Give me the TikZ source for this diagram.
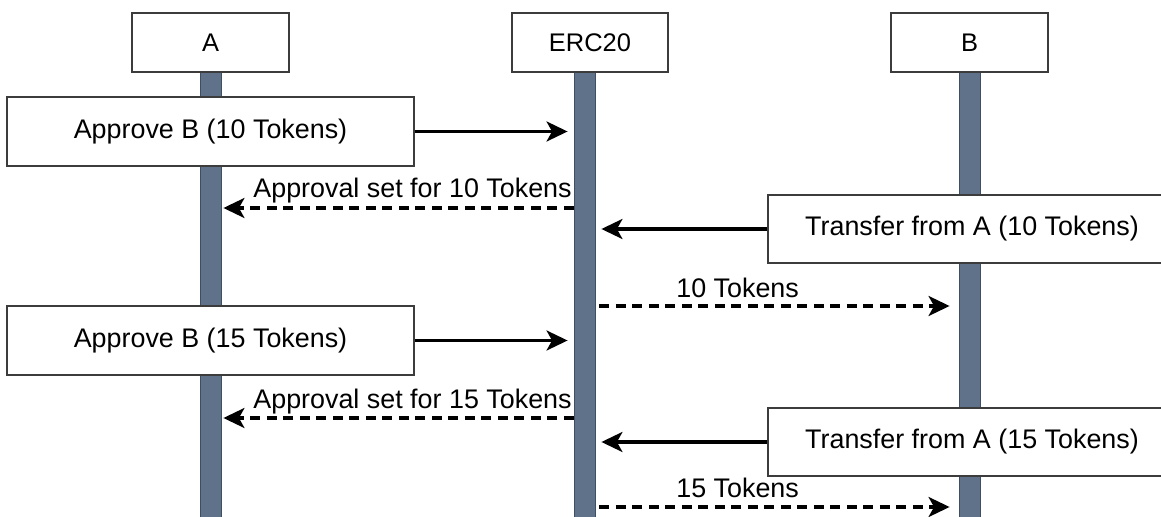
\documentclass[tikz,border=0pt]{standalone}
\usepackage{fontspec}
\setmainfont{Liberation Sans}
\usetikzlibrary{arrows.meta,calc}
\definecolor{lifeslate}{RGB}{95,114,137}
\definecolor{lifeedge}{RGB}{64,78,98}
\definecolor{boxedge}{RGB}{60,60,60}
\tikzset{
  hdbox/.style={draw=boxedge,line width=1.3pt,fill=white,minimum width=3.14cm,minimum height=1.18cm,inner sep=0pt,font=\fontsize{14.5}{17}\selectfont},
  callbox/.style={draw=boxedge,line width=1.3pt,fill=white,minimum width=8.14cm,minimum height=1.38cm,inner sep=0pt,font=\fontsize{15.3}{18}\selectfont},
  lifebar/.style={draw=lifeedge,line width=0.5pt,fill=lifeslate,minimum width=0.42cm,minimum height=9.1cm,inner sep=0pt,anchor=north},
  callflow/.style={-{Stealth[length=0.42cm,width=0.4cm,inset=0.11cm]},line width=1.8pt,draw=black},
  backflow/.style={callflow,dash pattern=on 0.2cm off 0.13cm},
  msglab/.style={font=\fontsize{15.3}{18}\selectfont,inner sep=0pt}
}
\begin{document}
\begin{tikzpicture}[x=0.02cm,y=-0.02cm]
  \useasboundingbox (0,0) rectangle (1161,517);
  % lifelines first, boxes go on top
  \node[lifebar] (lifeA) at (210.5,72) {};
  \node[lifebar] (lifeE) at (584.5,72) {};
  \node[lifebar] (lifeB) at (969.5,72) {};
  \node[hdbox] (hdA) at (210.5,42.5) {A};
  \node[hdbox,minimum width=3.12cm] (hdE) at (590,42.5) {ERC20};
  \node[hdbox] (hdB) at (969.5,42.5) {B};

  \coordinate (r1) at (0,208);
  \coordinate (t1) at (0,306);
  \coordinate (r2) at (0,418);
  \coordinate (t2) at (0,507);

  % first round: 10 tokens
  \node[callbox] (ap1) at (210.5,131.5) {Approve B (10 Tokens)};
  \draw[callflow,shorten >=0.12cm] (ap1.east) -- (ap1.east -| lifeE.west);
  \draw[backflow,shorten >=0.04cm] (r1 -| lifeE.west) -- (r1 -| lifeA.east);
  \node[msglab,anchor=base east] (lr1) at (572,198) {Approval set for 10 Tokens};
  \node[callbox,minimum width=8.16cm,minimum height=1.36cm] (tr1) at (972,229) {Transfer from A (10 Tokens)};
  \draw[callflow,shorten >=0.12cm] (tr1.west) -- (tr1.west -| lifeE.east);
  \draw[backflow,shorten <=0.08cm,shorten >=0.18cm] (t1 -| lifeE.east) -- (t1 -| lifeB.west);
  \node[msglab,anchor=base west] (lt1) at (676,297) {10 Tokens};

  % second round: 15 tokens
  \node[callbox] (ap2) at (210.5,340.5) {Approve B (15 Tokens)};
  \draw[callflow,shorten >=0.12cm] (ap2.east) -- (ap2.east -| lifeE.west);
  \draw[backflow,shorten >=0.04cm] (r2 -| lifeE.west) -- (r2 -| lifeA.east);
  \node[msglab,anchor=base east] (lr2) at (572,408) {Approval set for 15 Tokens};
  \node[callbox,minimum width=8.16cm,minimum height=1.36cm] (tr2) at (972,442) {Transfer from A (15 Tokens)};
  \draw[callflow,shorten >=0.12cm] (tr2.west) -- (tr2.west -| lifeE.east);
  \draw[backflow,shorten <=0.08cm,shorten >=0.18cm] (t2 -| lifeE.east) -- (t2 -| lifeB.west);
  \node[msglab,anchor=base west] (lt2) at (676,497) {15 Tokens};
\end{tikzpicture}
\end{document}
